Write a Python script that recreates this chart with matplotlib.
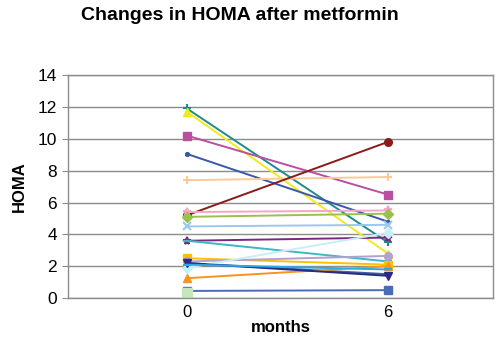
import matplotlib
matplotlib.use('Agg')
import matplotlib.pyplot as plt

plt.rcParams['font.family'] = ['Liberation Sans', 'DejaVu Sans']

months = [0, 6]

# HOMA per patient, baseline and after 6 months (None = missing)
homa_0 = [11.9, 11.7, 10.2, 9.05, 7.4, 5.2, 5.4, 5.1, 4.5, 3.6, 3.6, 2.5, 2.3,
          2.2, 1.9, 1.25, 0.45, 2.2, 2.1, 0.35]
homa_6 = [3.5, 2.8, 6.5, 4.8, 7.6, 9.8, 5.5, 5.3, 4.6, 3.8, 2.3, 2.1, 2.65,
          1.5, 4.1, 2.0, 0.5, 1.4, 1.8, None]
colors = ['#1F8A8A', '#F2EA1C', '#B84FA0', '#3A58A8', '#FCC999', '#8B1A1A',
          '#F4A6C8', '#99C24D', '#9BC8EE', '#7A2A7E', '#3CB8C0', '#FFC000',
          '#B4A0D2', '#3A60B0', '#C8EEF6', '#F7941D', '#4A6CB8', '#2A2A80',
          '#29ABE2', '#C8E6BE']
markers = ['+', '^', 's', '.', '+', 'o', '*', 'D', 'x', '*', '_', 's', 'o',
           '.', 'D', '^', 's', 'v', '_', 's']

fig = plt.figure(figsize=(5, 3.38), dpi=100)
ax = fig.add_axes([0.136, 0.118, 0.85, 0.66])

for y0, y6, c, m in zip(homa_0, homa_6, colors, markers):
    if y6 is None:
        ax.plot([months[0]], [y0], color=c, marker=m, ms=6.5, lw=1.5)
    else:
        ax.plot(months, [y0, y6], color=c, marker=m, ms=5.5, lw=1.4,
                mew=1.5 if m in ('+', 'x', '*', '_') else 1)

ax.set_ylim(0, 14)
ax.set_xlim(-3.55, 9.14)
ax.set_yticks(range(0, 15, 2))
ax.yaxis.grid(True, color='#8c8c8c', lw=1)
ax.set_axisbelow(True)
ax.set_xticks(months)
ax.set_xticklabels(['0', '6'], fontsize=12)
ax.tick_params(axis='x', length=0, pad=5)
ax.tick_params(axis='y', length=4, direction='out', color='#8c8c8c', labelsize=12.5, pad=4)
for s in ax.spines.values():
    s.set_color('#8c8c8c')
    s.set_linewidth(1)

ax.set_xlabel('months', fontsize=12, fontweight='bold', labelpad=0)
ax.set_ylabel('HOMA', fontsize=12, fontweight='bold', labelpad=8)
fig.text(0.48, 0.955, 'Changes in HOMA after metformin', fontsize=14,
         fontweight='bold', ha='center', va='center')

fig.savefig('out.png', dpi=100)
